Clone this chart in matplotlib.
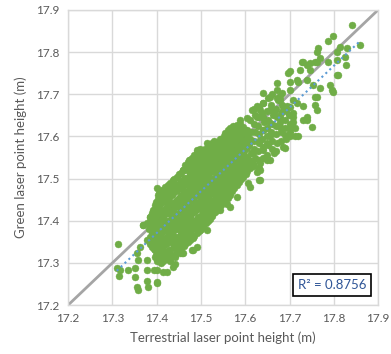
import numpy as np
import matplotlib
matplotlib.use("Agg")
import matplotlib.pyplot as plt

# Terrestrial laser point height (x) and green laser point height (y), metres
terrestrial = [
    # dense core
    17.384, 17.386, 17.383, 17.387, 17.385,
    17.393, 17.391, 17.395, 17.392, 17.394, 17.392,
    17.401, 17.399, 17.402, 17.398, 17.400, 17.403, 17.399, 17.401, 17.398, 17.402,
    17.411, 17.409, 17.412, 17.408, 17.410, 17.413, 17.409, 17.411, 17.408, 17.412, 17.410,
    17.421, 17.419, 17.422, 17.418, 17.420, 17.423, 17.419, 17.421, 17.418, 17.422, 17.420,
    17.431, 17.429, 17.432, 17.428, 17.430, 17.433, 17.429, 17.431, 17.428, 17.432, 17.430,
    17.441, 17.439, 17.442, 17.438, 17.440, 17.443, 17.439, 17.441, 17.438, 17.442, 17.440,
    17.451, 17.449, 17.452, 17.448, 17.450, 17.453, 17.449, 17.451, 17.448, 17.452, 17.450,
    17.461, 17.459, 17.462, 17.458, 17.460, 17.463, 17.459, 17.461, 17.458, 17.462, 17.460,
    17.471, 17.469, 17.472, 17.468, 17.470, 17.473, 17.469, 17.471, 17.468, 17.472, 17.470, 17.471,
    17.481, 17.479, 17.482, 17.478, 17.480, 17.483, 17.479, 17.481, 17.478, 17.482, 17.480, 17.479,
    17.491, 17.489, 17.492, 17.488, 17.490, 17.493, 17.489, 17.491, 17.488, 17.492, 17.490, 17.491,
    17.501, 17.499, 17.502, 17.498, 17.500, 17.503, 17.499, 17.501, 17.498, 17.502, 17.500, 17.499,
    17.511, 17.509, 17.512, 17.508, 17.510, 17.513, 17.509, 17.511, 17.508, 17.512, 17.510,
    17.521, 17.519, 17.522, 17.518, 17.520, 17.523, 17.519, 17.521, 17.518, 17.522, 17.520,
    17.531, 17.529, 17.532, 17.528, 17.530, 17.533, 17.529, 17.531, 17.528, 17.532, 17.530,
    17.541, 17.539, 17.542, 17.538, 17.540, 17.543, 17.539, 17.541, 17.538, 17.542,
    17.551, 17.549, 17.552, 17.548, 17.550, 17.553, 17.549, 17.551, 17.548, 17.552,
    17.561, 17.559, 17.562, 17.558, 17.560, 17.563, 17.559, 17.561, 17.558, 17.562,
    17.571, 17.569, 17.572, 17.568, 17.570, 17.573, 17.569, 17.571, 17.568, 17.572,
    17.581, 17.579, 17.582, 17.578, 17.580, 17.583, 17.579, 17.581, 17.578,
    17.591, 17.589, 17.592, 17.588, 17.590, 17.593, 17.589, 17.591, 17.588,
    17.601, 17.599, 17.602, 17.598, 17.600, 17.603, 17.599,
    17.611, 17.609, 17.612, 17.608, 17.610, 17.613,
    # lower-left scatter
    17.312, 17.310, 17.317, 17.314, 17.351, 17.355, 17.357, 17.378, 17.381, 17.400,
    17.351, 17.335, 17.369, 17.378, 17.400, 17.423, 17.442, 17.460, 17.479, 17.442,
    17.430, 17.482, 17.457, 17.400, 17.370, 17.378, 17.363, 17.355, 17.359, 17.378,
    17.393, 17.400, 17.415, 17.438, 17.430, 17.453, 17.460,
    17.412, 17.438, 17.460, 17.475, 17.491, 17.393, 17.385, 17.378,
    # lower-right edge
    17.634, 17.607, 17.588, 17.558, 17.536, 17.517, 17.498, 17.483, 17.528, 17.513,
    17.491, 17.460,
    17.649, 17.649, 17.630, 17.611, 17.592, 17.581, 17.566, 17.543, 17.634, 17.618,
    # upper part
    17.842, 17.859, 17.799, 17.788, 17.765, 17.762, 17.814, 17.807, 17.829, 17.825,
    17.828, 17.807, 17.792, 17.795, 17.769, 17.762, 17.758, 17.762, 17.750, 17.739,
    17.720, 17.701, 17.690, 17.686, 17.664, 17.701, 17.728, 17.739, 17.762, 17.769,
    17.724, 17.747, 17.701, 17.716, 17.739, 17.754, 17.671, 17.682, 17.656, 17.641,
    17.634, 17.626, 17.611, 17.603, 17.581, 17.573, 17.543, 17.551, 17.528, 17.505,
    17.483, 17.468,
    17.679, 17.694, 17.709, 17.731, 17.739, 17.709, 17.679, 17.656, 17.701, 17.679,
    17.656, 17.641, 17.656, 17.634, 17.611, 17.641, 17.618, 17.596, 17.656, 17.634,
    17.611, 17.588, 17.566, 17.566, 17.543, 17.521, 17.498, 17.596, 17.626,
    17.603, 17.641, 17.671, 17.626, 17.615, 17.588, 17.558, 17.513, 17.498, 17.475,
    17.807, 17.788, 17.810, 17.758, 17.747, 17.731, 17.697, 17.720, 17.799, 17.758,
    17.731, 17.701, 17.675, 17.716, 17.686, 17.709, 17.664, 17.641, 17.709,
]
green = [
    # dense core
    17.345, 17.362, 17.380, 17.396, 17.410,
    17.332, 17.350, 17.370, 17.390, 17.405, 17.425,
    17.305, 17.320, 17.340, 17.355, 17.370, 17.390, 17.410, 17.430, 17.445, 17.460,
    17.300, 17.315, 17.335, 17.350, 17.370, 17.385, 17.400, 17.420, 17.440, 17.455, 17.470,
    17.310, 17.325, 17.345, 17.360, 17.380, 17.395, 17.415, 17.430, 17.450, 17.465, 17.480,
    17.315, 17.330, 17.350, 17.370, 17.385, 17.405, 17.420, 17.440, 17.455, 17.470, 17.490,
    17.320, 17.340, 17.360, 17.375, 17.395, 17.410, 17.430, 17.445, 17.465, 17.480, 17.500,
    17.330, 17.350, 17.365, 17.385, 17.400, 17.420, 17.440, 17.455, 17.475, 17.490, 17.510,
    17.340, 17.355, 17.375, 17.390, 17.410, 17.430, 17.445, 17.465, 17.480, 17.500, 17.520,
    17.350, 17.365, 17.385, 17.400, 17.420, 17.435, 17.455, 17.470, 17.490, 17.505, 17.525, 17.540,
    17.360, 17.380, 17.395, 17.415, 17.430, 17.450, 17.465, 17.485, 17.500, 17.520, 17.535, 17.550,
    17.370, 17.390, 17.405, 17.425, 17.440, 17.460, 17.475, 17.495, 17.510, 17.530, 17.545, 17.560,
    17.380, 17.400, 17.415, 17.435, 17.450, 17.470, 17.485, 17.505, 17.520, 17.540, 17.555, 17.570,
    17.395, 17.410, 17.430, 17.445, 17.465, 17.480, 17.500, 17.515, 17.535, 17.550, 17.570,
    17.405, 17.425, 17.440, 17.460, 17.475, 17.495, 17.510, 17.530, 17.545, 17.565, 17.580,
    17.420, 17.435, 17.455, 17.470, 17.490, 17.505, 17.525, 17.540, 17.560, 17.575, 17.590,
    17.430, 17.450, 17.465, 17.485, 17.500, 17.520, 17.535, 17.555, 17.570, 17.590,
    17.445, 17.460, 17.480, 17.495, 17.515, 17.530, 17.550, 17.565, 17.585, 17.600,
    17.455, 17.475, 17.490, 17.510, 17.525, 17.545, 17.560, 17.580, 17.595, 17.615,
    17.470, 17.490, 17.505, 17.525, 17.540, 17.560, 17.575, 17.595, 17.610, 17.625,
    17.485, 17.500, 17.520, 17.535, 17.555, 17.570, 17.590, 17.605, 17.620,
    17.500, 17.515, 17.530, 17.550, 17.565, 17.585, 17.600, 17.615, 17.630,
    17.510, 17.530, 17.545, 17.565, 17.580, 17.600, 17.615,
    17.525, 17.545, 17.560, 17.580, 17.595, 17.610,
    # lower-left scatter
    17.345, 17.287, 17.283, 17.269, 17.266, 17.243, 17.236, 17.258, 17.243, 17.253,
    17.288, 17.283, 17.390, 17.283, 17.283, 17.279, 17.297, 17.323, 17.330, 17.315,
    17.304, 17.330, 17.323, 17.477, 17.390, 17.354, 17.338, 17.323, 17.307, 17.307,
    17.283, 17.255, 17.279, 17.291, 17.311, 17.323, 17.362,
    17.473, 17.497, 17.520, 17.544, 17.568, 17.425, 17.410, 17.394,
    # lower-right edge
    17.497, 17.489, 17.512, 17.441, 17.425, 17.402, 17.378, 17.362, 17.418, 17.378,
    17.338, 17.354,
    17.584, 17.544, 17.497, 17.481, 17.504, 17.457, 17.433, 17.425, 17.520, 17.536,
    # upper part
    17.864, 17.817, 17.837, 17.827, 17.809, 17.801, 17.813, 17.801, 17.809, 17.789,
    17.769, 17.746, 17.722, 17.710, 17.714, 17.694, 17.675, 17.663, 17.623, 17.639,
    17.600, 17.600, 17.603, 17.576, 17.560, 17.754, 17.777, 17.769, 17.777, 17.785,
    17.758, 17.758, 17.730, 17.734, 17.734, 17.722, 17.710, 17.702, 17.694, 17.679,
    17.663, 17.647, 17.639, 17.615, 17.627, 17.600, 17.595, 17.576, 17.568, 17.560,
    17.536, 17.520,
    17.686, 17.671, 17.686, 17.671, 17.647, 17.647, 17.647, 17.663, 17.623, 17.623,
    17.631, 17.615, 17.600, 17.592, 17.592, 17.568, 17.560, 17.568, 17.544, 17.536,
    17.528, 17.536, 17.544, 17.512, 17.528, 17.528, 17.512, 17.512, 17.516,
    17.643, 17.702, 17.726, 17.671, 17.663, 17.639, 17.607, 17.584, 17.560, 17.544,
    17.781, 17.777, 17.746, 17.777, 17.774, 17.777, 17.751, 17.730, 17.706, 17.694,
    17.639, 17.710, 17.686, 17.679, 17.663, 17.655, 17.655, 17.647, 17.635,
]
# further points filling the dense middle of the cloud
terrestrial_mid = [
    17.389, 17.388, 17.390, 17.389, 17.388, 17.390,
    17.397, 17.396, 17.398, 17.397, 17.396, 17.398, 17.397, 17.396,
    17.405, 17.406, 17.404, 17.405, 17.406, 17.404, 17.405, 17.406, 17.404, 17.405,
    17.415, 17.416, 17.414, 17.415, 17.416, 17.414, 17.415, 17.416, 17.414, 17.415, 17.416,
    17.425, 17.426, 17.424, 17.425, 17.426, 17.424, 17.425, 17.426, 17.424, 17.425, 17.426,
    17.435, 17.436, 17.434, 17.435, 17.436, 17.434, 17.435, 17.436, 17.434, 17.435, 17.436,
    17.445, 17.446, 17.444, 17.445, 17.446, 17.444, 17.445, 17.446, 17.444, 17.445, 17.446,
    17.455, 17.456, 17.454, 17.455, 17.456, 17.454, 17.455, 17.456, 17.454, 17.455, 17.456,
    17.465, 17.466, 17.464, 17.465, 17.466, 17.464, 17.465, 17.466, 17.464, 17.465, 17.466, 17.464,
    17.475, 17.476, 17.474, 17.475, 17.476, 17.474, 17.475, 17.476, 17.474, 17.475, 17.476, 17.474,
    17.485, 17.486, 17.484, 17.485, 17.486, 17.484, 17.485, 17.486, 17.484, 17.485, 17.486, 17.484,
    17.495, 17.496, 17.494, 17.495, 17.496, 17.494, 17.495, 17.496, 17.494, 17.495, 17.496, 17.494,
    17.505, 17.506, 17.504, 17.505, 17.506, 17.504, 17.505, 17.506, 17.504, 17.505, 17.506,
    17.515, 17.516, 17.514, 17.515, 17.516, 17.514, 17.515, 17.516, 17.514, 17.515, 17.516,
    17.525, 17.526, 17.524, 17.525, 17.526, 17.524, 17.525, 17.526, 17.524, 17.525, 17.526,
    17.535, 17.536, 17.534, 17.535, 17.536, 17.534, 17.535, 17.536, 17.534, 17.535,
    17.545, 17.546, 17.544, 17.545, 17.546, 17.544, 17.545, 17.546, 17.544, 17.545,
    17.555, 17.556, 17.554, 17.555, 17.556, 17.554, 17.555, 17.556, 17.554, 17.555,
    17.565, 17.566, 17.564, 17.565, 17.566, 17.564, 17.565, 17.566, 17.564, 17.565,
    17.575, 17.576, 17.574, 17.575, 17.576, 17.574, 17.575, 17.576, 17.574,
    17.585, 17.586, 17.584, 17.585, 17.586, 17.584, 17.585, 17.586, 17.584,
    17.595, 17.596, 17.594, 17.595, 17.596, 17.594, 17.595, 17.596,
    17.605, 17.606, 17.604, 17.605, 17.606, 17.604,
    # upper band, x 17.62-17.71
    17.620, 17.621, 17.619, 17.620, 17.622, 17.619, 17.621, 17.620,
    17.630, 17.631, 17.629, 17.630, 17.632, 17.629, 17.631, 17.630,
    17.640, 17.641, 17.639, 17.640, 17.642, 17.639, 17.641,
    17.650, 17.651, 17.649, 17.650, 17.652, 17.649, 17.651,
    17.660, 17.661, 17.659, 17.660, 17.662, 17.659, 17.661,
    17.670, 17.671, 17.669, 17.670, 17.672, 17.669, 17.671,
    17.680, 17.681, 17.679, 17.680, 17.682, 17.679,
    17.690, 17.691, 17.689, 17.690, 17.692,
    17.700, 17.701, 17.699, 17.700,
    17.713, 17.712,
]
green_mid = [
    17.338, 17.355, 17.372, 17.388, 17.403, 17.418,
    17.315, 17.330, 17.348, 17.362, 17.380, 17.398, 17.418, 17.437,
    17.310, 17.328, 17.345, 17.362, 17.378, 17.398, 17.418, 17.436, 17.452, 17.465,
    17.305, 17.322, 17.340, 17.357, 17.375, 17.390, 17.408, 17.426, 17.445, 17.460, 17.474,
    17.312, 17.328, 17.348, 17.365, 17.383, 17.400, 17.418, 17.435, 17.452, 17.468, 17.485,
    17.318, 17.335, 17.355, 17.372, 17.390, 17.408, 17.425, 17.442, 17.460, 17.475, 17.494,
    17.325, 17.345, 17.362, 17.380, 17.398, 17.415, 17.435, 17.450, 17.470, 17.486, 17.505,
    17.335, 17.352, 17.370, 17.388, 17.405, 17.425, 17.442, 17.460, 17.478, 17.495, 17.514,
    17.345, 17.360, 17.380, 17.395, 17.415, 17.432, 17.450, 17.468, 17.485, 17.502, 17.522, 17.532,
    17.355, 17.372, 17.390, 17.408, 17.425, 17.442, 17.460, 17.478, 17.495, 17.512, 17.530, 17.545,
    17.365, 17.385, 17.400, 17.420, 17.435, 17.455, 17.470, 17.490, 17.505, 17.525, 17.540, 17.555,
    17.375, 17.395, 17.410, 17.430, 17.445, 17.465, 17.480, 17.500, 17.515, 17.535, 17.550, 17.565,
    17.388, 17.405, 17.422, 17.440, 17.458, 17.475, 17.492, 17.510, 17.528, 17.545, 17.562,
    17.400, 17.418, 17.435, 17.452, 17.470, 17.488, 17.505, 17.522, 17.540, 17.558, 17.575,
    17.412, 17.430, 17.448, 17.465, 17.482, 17.500, 17.518, 17.535, 17.552, 17.570, 17.585,
    17.425, 17.442, 17.460, 17.478, 17.495, 17.512, 17.530, 17.548, 17.565, 17.582,
    17.438, 17.455, 17.472, 17.490, 17.508, 17.525, 17.542, 17.560, 17.578, 17.595,
    17.450, 17.468, 17.485, 17.502, 17.520, 17.538, 17.555, 17.572, 17.590, 17.608,
    17.462, 17.482, 17.498, 17.518, 17.532, 17.552, 17.568, 17.588, 17.602, 17.620,
    17.478, 17.495, 17.512, 17.530, 17.548, 17.565, 17.582, 17.600, 17.615,
    17.492, 17.508, 17.525, 17.542, 17.560, 17.578, 17.595, 17.610, 17.625,
    17.505, 17.522, 17.538, 17.558, 17.572, 17.592, 17.608, 17.622,
    17.518, 17.538, 17.552, 17.572, 17.588, 17.605,
    # upper band, x 17.62-17.71
    17.530, 17.550, 17.570, 17.590, 17.610, 17.630, 17.650, 17.665,
    17.525, 17.545, 17.565, 17.585, 17.605, 17.625, 17.645, 17.670,
    17.550, 17.575, 17.595, 17.615, 17.635, 17.655, 17.680,
    17.555, 17.580, 17.600, 17.620, 17.640, 17.660, 17.690,
    17.570, 17.590, 17.610, 17.630, 17.650, 17.675, 17.700,
    17.565, 17.585, 17.605, 17.625, 17.645, 17.665, 17.690,
    17.590, 17.610, 17.635, 17.655, 17.675, 17.695,
    17.572, 17.595, 17.620, 17.640, 17.660,
    17.610, 17.630, 17.650, 17.670,
    17.600, 17.620,
]
r2_label = "R² = 0.8756"
axis_min, axis_max = 17.2, 17.9
ticks = [17.2, 17.3, 17.4, 17.5, 17.6, 17.7, 17.8, 17.9]

x = np.array(terrestrial + terrestrial_mid)
y = np.array(green + green_mid)

plt.rcParams['font.family'] = ['Lato', 'DejaVu Sans']
fig = plt.figure(figsize=(3.91, 3.54), dpi=100)
ax = fig.add_axes([0.174, 0.138, 0.793, 0.834])

ax.set_xlim(axis_min, axis_max)
ax.set_ylim(axis_min, axis_max)
ax.set_xticks(ticks)
ax.set_yticks(ticks)
ax.set_xticklabels([f"{t:.1f}" for t in ticks])
ax.set_yticklabels([f"{t:.1f}" for t in ticks])
ax.grid(True, color='#D9D9D9', linewidth=1.0, zorder=0)
ax.set_axisbelow(True)
for s in ax.spines.values():
    s.set_color('#D9D9D9')
    s.set_linewidth(1.0)
ax.tick_params(length=0, labelsize=8.5, colors='#595959', pad=6)

ax.scatter(x, y, s=25, color='#70AD47', edgecolors='#70AD47', linewidths=0.3, zorder=2)

# 1:1 line
ax.plot([axis_min, axis_max], [axis_min, axis_max], color='#A5A5A5', linewidth=2.0,
        zorder=1.5, solid_capstyle='butt')

# linear trend line
k, b = np.polyfit(x, y, 1)
tx = np.array([x.min(), x.max()])
ax.plot(tx, k * tx + b, color='#5B9BD5', linewidth=1.5, linestyle=(0, (1, 1.6)), zorder=3)

ax.text(0.852, 0.068, r2_label, transform=ax.transAxes, ha='center', va='center',
        fontsize=9.5, color='#2F5597', zorder=5,
        bbox=dict(boxstyle='square,pad=0.35', facecolor='white', edgecolor='black', linewidth=1.2))

ax.set_xlabel('Terrestrial laser point height (m)', fontsize=9.5, color='#595959', labelpad=5)
ax.set_ylabel('Green laser point height (m)', fontsize=9.5, color='#595959', labelpad=7)

fig.savefig('out.png', dpi=100)
